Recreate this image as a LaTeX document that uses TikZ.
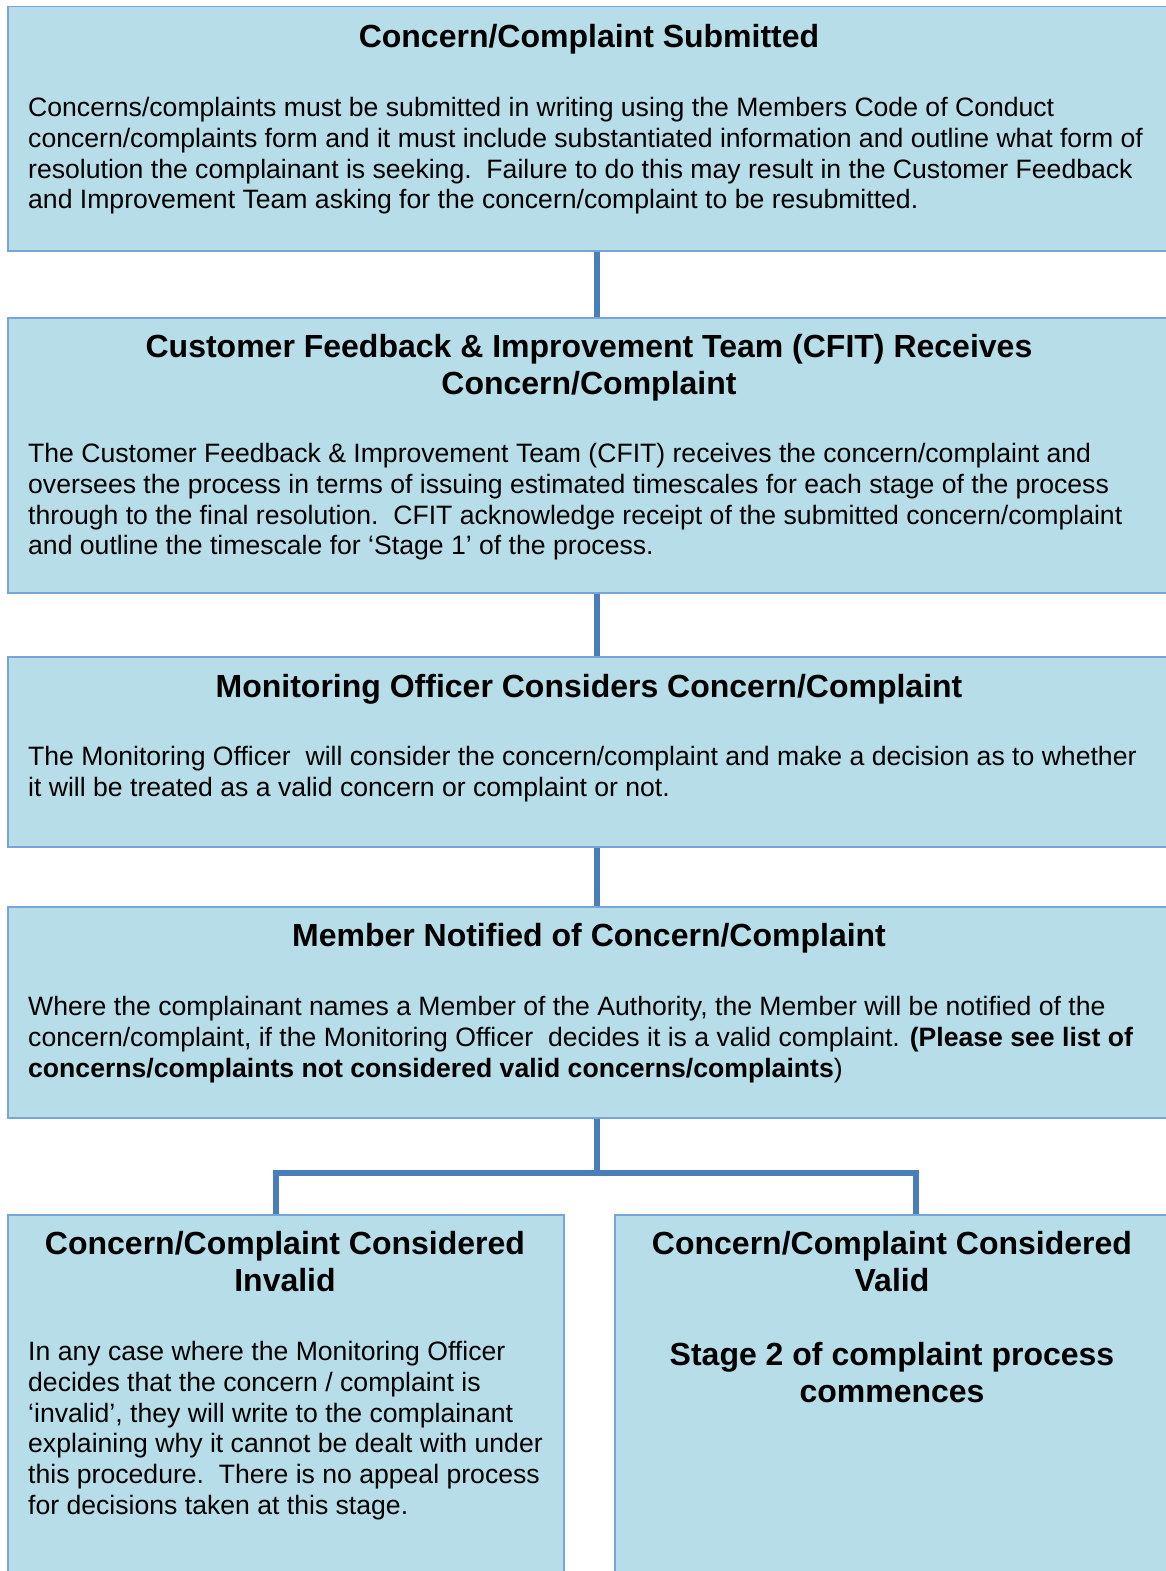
\documentclass[tikz,border=0pt]{standalone}
\usepackage{fontspec}
\setmainfont{Liberation Sans}
\definecolor{boxfill}{HTML}{B6DDE8}
\definecolor{boxline}{HTML}{78A4DC}
\definecolor{connline}{HTML}{4A7EBB}
\begin{document}
\begin{tikzpicture}[x=1pt,y=-1pt,
  box/.style={rectangle, draw=boxline, fill=boxfill, line width=1.5pt, inner sep=0pt, anchor=north west},
  ttl/.style={anchor=north, align=center, inner sep=0pt, font=\fontsize{32}{36.8}\selectfont\bfseries},
  body/.style={anchor=north west, align=left, inner sep=0pt, font=\fontsize{26.6}{30.8}\selectfont},
  conn/.style={draw=connline, line width=6pt}]
\useasboundingbox (0,0) rectangle (1166,1571);
\clip (0,0) rectangle (1166,1571);
% boxes
\node[box, minimum width=1164pt, minimum height=244pt] (b1) at (7,6) {};
\node[box, minimum width=1164pt, minimum height=275pt] (b2) at (7,317) {};
\node[box, minimum width=1164pt, minimum height=190pt] (b3) at (7,656) {};
\node[box, minimum width=1164pt, minimum height=211pt] (b4) at (7,906) {};
\node[box, minimum width=556pt, minimum height=380pt] (b5) at (7,1214) {};
\node[box, minimum width=558pt, minimum height=380pt] (b6) at (614,1214) {};
% connectors
\coordinate (xc) at (597,0);
\coordinate (xl) at (276,0);
\coordinate (xr) at (916,0);
\coordinate (split) at (597,1173);
\draw[conn] (b1.south -| xc) -- (b2.north -| xc);
\draw[conn] (b2.south -| xc) -- (b3.north -| xc);
\draw[conn] (b3.south -| xc) -- (b4.north -| xc);
\draw[conn] (b4.south -| xc) -- (split);
\draw[conn, line join=miter] (b5.north -| xl) -- (split -| xl) -- (split -| xr) -- (b6.north -| xr);
% texts
\node[ttl] (t1) at (589,24) {Concern/Complaint Submitted};
\node[body] (d1) at (28,97) {Concerns/complaints must be submitted in writing using the Members Code of Conduct\\
concern/complaints form and it must include substantiated information and outline what form of\\
resolution the complainant is seeking.\ \ Failure to do this may result in the Customer Feedback\\
and Improvement Team asking for the concern/complaint to be resubmitted.};
\node[ttl] (t2) at (589,334) {Customer Feedback \& Improvement Team (CFIT) Receives\\Concern/Complaint};
\node[body] (d2) at (28,443) {The Customer Feedback \& Improvement Team (CFIT) receives the concern/complaint and\\
oversees the process in terms of issuing estimated timescales for each stage of the process\\
through to the final resolution.\ \ CFIT acknowledge receipt of the submitted concern/complaint\\
and outline the timescale for ‘Stage 1’ of the process.};
\node[ttl] (t3) at (589,674) {Monitoring Officer Considers Concern/Complaint};
\node[body] (d3) at (28,746) {The Monitoring Officer\ \ will consider the concern/complaint and make a decision as to whether\\
it will be treated as a valid concern or complaint or not.};
\node[ttl] (t4) at (589,923) {Member Notified of Concern/Complaint};
\node[body] (d4) at (28,996) {Where the complainant names a Member of the Authority, the Member will be notified of the\\
concern/complaint, if the Monitoring Officer\ \ decides it is a valid complaint. \textbf{(Please see list of}\\
\textbf{concerns/complaints not considered valid concerns/complaints})};
\node[ttl] (t5) at (285,1231) {Concern/Complaint Considered\\Invalid};
\node[body] (d5) at (28,1341) {In any case where the Monitoring Officer\\
decides that the concern / complaint is\\
‘invalid’, they will write to the complainant\\
explaining why it cannot be dealt with under\\
this procedure.\ \ There is no appeal process\\
for decisions taken at this stage.};
\node[ttl] (t6) at (892,1231) {Concern/Complaint Considered\\Valid};
\node[ttl] (d6) at (892,1342) {Stage 2 of complaint process\\commences};
\end{tikzpicture}
\end{document}
